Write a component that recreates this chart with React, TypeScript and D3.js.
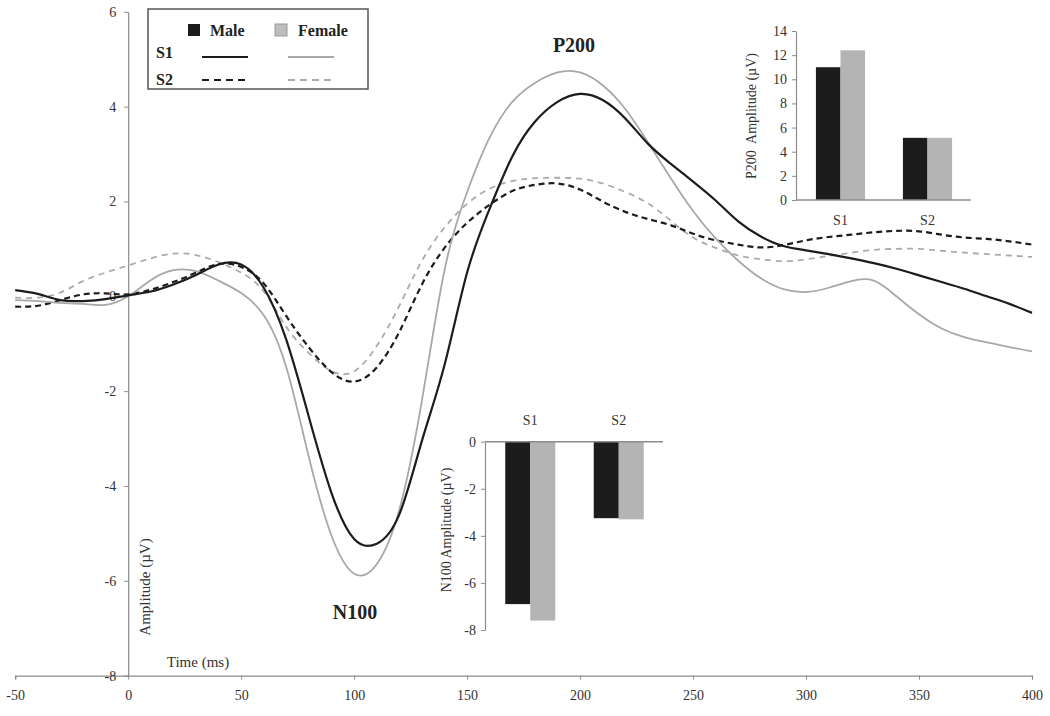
import React, { useEffect, useRef } from 'react';
import * as d3 from 'd3';

// ERP waveforms, sampled every 10 ms
const times = [
  -50, -40, -30, -20, -10, 0, 10, 20, 30, 40, 50, 60, 70, 80, 90, 100, 110, 120, 130, 140,
  150, 160, 170, 180, 190, 200, 210, 220, 230, 240, 250, 260, 270, 280, 290, 300, 310, 320,
  330, 340, 350, 360, 370, 380, 390, 400,
];
const maleS1 = [
  0.13, 0.05, -0.08, -0.1, -0.06, 0.02, 0.1, 0.25, 0.45, 0.67, 0.67, 0.18, -0.92, -2.55, -4.15, -5.12,
  -5.22, -4.6, -3.05, -1.45, 0.5, 1.85, 2.95, 3.68, 4.1, 4.27, 4.14, 3.75, 3.22, 2.8, 2.42, 2.02,
  1.58, 1.26, 1.06, 0.97, 0.89, 0.8, 0.7, 0.58, 0.44, 0.3, 0.16, 0.0, -0.16, -0.35,
];
const femaleS1 = [
  -0.08, -0.1, -0.14, -0.16, -0.18, 0.0, 0.34, 0.55, 0.53, 0.33, 0.07, -0.4, -1.5, -3.4, -5.05, -5.85,
  -5.65, -4.5, -2.2, 0.55, 2.2, 3.35, 4.1, 4.5, 4.72, 4.72, 4.45, 3.95, 3.25, 2.5, 1.8, 1.22,
  0.75, 0.38, 0.15, 0.09, 0.18, 0.32, 0.33, 0.0, -0.38, -0.68, -0.86, -0.97, -1.07, -1.16,
];
const maleS2 = [
  -0.22, -0.2, -0.08, 0.04, 0.06, 0.04, 0.14, 0.3, 0.5, 0.68, 0.62, 0.27, -0.42, -1.08, -1.6, -1.8,
  -1.5, -0.75, 0.25, 1.02, 1.55, 1.93, 2.22, 2.35, 2.38, 2.25, 2.0, 1.78, 1.63, 1.5, 1.32, 1.18,
  1.09, 1.03, 1.08, 1.18, 1.25, 1.3, 1.35, 1.38, 1.37, 1.3, 1.24, 1.21, 1.16, 1.09,
];
const femaleS2 = [
  -0.03, -0.03, 0.08, 0.32, 0.5, 0.65, 0.8, 0.9, 0.87, 0.72, 0.5, 0.1, -0.65, -1.2, -1.58, -1.58,
  -1.05, -0.2, 0.75, 1.45, 1.95, 2.27, 2.43, 2.49, 2.5, 2.48, 2.38, 2.2, 1.96, 1.6, 1.24, 1.02,
  0.86, 0.78, 0.74, 0.78, 0.85, 0.92, 0.98, 1.0, 1.0, 0.96, 0.92, 0.89, 0.86, 0.83,
];

const xTicks = [-50, 0, 50, 100, 150, 200, 250, 300, 350, 400];
const yTicks = [-8, -6, -4, -2, 0, 2, 4, 6];

// inset bar charts
const sessions = ['S1', 'S2'];
const genders = ['Male', 'Female'];
const p200Male = [11.0, 5.15];
const p200Female = [12.4, 5.15];
const p200Ticks = [0, 2, 4, 6, 8, 10, 12, 14];
const n100Male = [-6.9, -3.25];
const n100Female = [-7.6, -3.3];
const n100Ticks = [-8, -6, -4, -2, 0];

const FONT = '"Liberation Serif", "DejaVu Serif", serif';
const AXIS = '#8c8c8c';
const TXT = '#333333';
const DARK = '#1c1c1c';
const LIGHT = '#b4b4b4';
const plain = (d) => String(d);

function App() {
  const ref = useRef(null);

  useEffect(() => {
    const el = ref.current;
    if (!el) return;
    el.innerHTML = '';
    const width = 1050;
    const height = 716;
    const svg = d3.select(el).append('svg').attr('width', width).attr('height', height)
      .style('position', 'absolute').style('left', 0).style('top', 0)
      .style('font-family', FONT);

    const x = d3.scaleLinear().domain([-50, 400]).range([15.2, 1032]);
    const y = d3.scaleLinear().domain([-8, 6]).range([675.6, 11.8]);

    // axes
    const xAxis = svg.append('g').attr('transform', `translate(0,${y(-8)})`)
      .call(d3.axisBottom(x).tickValues(xTicks).tickFormat(plain).tickSize(4).tickSizeOuter(4).tickPadding(10));
    const yAxis = svg.append('g').attr('transform', `translate(${x(0)},0)`)
      .call(d3.axisLeft(y).tickValues(yTicks).tickFormat(plain).tickSize(4).tickSizeOuter(0).tickPadding(8));
    [xAxis, yAxis].forEach((g) => {
      g.select('.domain').attr('stroke', AXIS).attr('stroke-width', 1.2);
      g.selectAll('line').attr('stroke', AXIS);
      g.selectAll('text').attr('fill', TXT).attr('font-size', 14).attr('font-family', FONT);
    });

    // waveforms
    const series = [
      { vals: femaleS2, color: '#ababab', width: 1.8, dash: '6,5' },
      { vals: maleS2, color: DARK, width: 2.2, dash: '6,4' },
      { vals: femaleS1, color: '#a8a8a8', width: 1.8, dash: null },
      { vals: maleS1, color: DARK, width: 2.2, dash: null },
    ];
    const line = d3.line()
      .x((_, i) => x(times[i]))
      .y((d) => y(d))
      .curve(d3.curveNatural);
    series.forEach((s) => {
      svg.append('path')
        .datum(s.vals)
        .attr('fill', 'none')
        .attr('stroke', s.color)
        .attr('stroke-width', s.width)
        .attr('stroke-dasharray', s.dash)
        .attr('d', line);
    });

    // axis titles
    svg.append('text')
      .attr('transform', `translate(150,587) rotate(-90)`)
      .attr('text-anchor', 'middle').attr('fill', TXT).attr('font-size', 15)
      .text('Amplitude (µV)');
    svg.append('text')
      .attr('x', 198).attr('y', 667).attr('text-anchor', 'middle')
      .attr('fill', TXT).attr('font-size', 15)
      .text('Time (ms)');

    // component labels
    svg.append('text').attr('x', 574).attr('y', 52).attr('text-anchor', 'middle')
      .attr('font-weight', 'bold').attr('font-size', 20).attr('fill', '#222').text('P200');
    svg.append('text').attr('x', 355).attr('y', 619).attr('text-anchor', 'middle')
      .attr('font-weight', 'bold').attr('font-size', 20).attr('fill', '#222').text('N100');

    // legend
    const lg = svg.append('g');
    lg.append('rect').attr('x', 148).attr('y', 9).attr('width', 220).attr('height', 80)
      .attr('fill', 'white').attr('stroke', '#555').attr('stroke-width', 1.5);
    lg.append('rect').attr('x', 188).attr('y', 24).attr('width', 12).attr('height', 12).attr('fill', DARK);
    lg.append('rect').attr('x', 275).attr('y', 24).attr('width', 12).attr('height', 12)
      .attr('fill', '#bdbdbd').attr('stroke', '#999');
    lg.append('text').attr('x', 210).attr('y', 36).attr('font-weight', 'bold').attr('font-size', 16)
      .attr('fill', '#222').text('Male');
    lg.append('text').attr('x', 298).attr('y', 36).attr('font-weight', 'bold').attr('font-size', 16)
      .attr('fill', '#222').text('Female');
    lg.append('text').attr('x', 156).attr('y', 58).attr('font-weight', 'bold').attr('font-size', 16)
      .attr('fill', '#222').text('S1');
    lg.append('text').attr('x', 156).attr('y', 85).attr('font-weight', 'bold').attr('font-size', 16)
      .attr('fill', '#222').text('S2');
    [
      { x1: 202, yy: 57, color: DARK, w: 2.2, dash: null },
      { x1: 288, yy: 57, color: '#a8a8a8', w: 1.8, dash: null },
      { x1: 202, yy: 80, color: DARK, w: 2.2, dash: '7,5' },
      { x1: 288, yy: 80, color: '#ababab', w: 1.8, dash: '7,5' },
    ].forEach((l) => {
      lg.append('line').attr('x1', l.x1).attr('x2', l.x1 + 46).attr('y1', l.yy).attr('y2', l.yy)
        .attr('stroke', l.color).attr('stroke-width', l.w).attr('stroke-dasharray', l.dash);
    });

    // inset bars
    const drawInset = (cfg) => {
      const g = svg.append('g');
      const yb = d3.scaleLinear().domain(cfg.domain).range(cfg.yRange);
      const x0 = d3.scaleBand().domain(sessions).range(cfg.xRange).paddingInner(0).paddingOuter(0);
      const groupW = x0.bandwidth() * 0.565;
      const x1 = d3.scaleBand().domain(genders).range([0, groupW]);
      const rows = sessions.map((s, i) => ({ s, vals: [cfg.male[i], cfg.female[i]] }));
      rows.forEach((r) => {
        const gx = x0(r.s) + (x0.bandwidth() - groupW) / 2;
        g.selectAll(null).data(r.vals).enter().append('rect')
          .attr('x', (_, j) => gx + x1(genders[j]))
          .attr('y', (d) => Math.min(yb(d), yb(0)))
          .attr('width', x1.bandwidth())
          .attr('height', (d) => Math.abs(yb(d) - yb(0)))
          .attr('fill', (_, j) => (j === 0 ? DARK : LIGHT));
      });
      const ax = g.append('g').attr('transform', `translate(${cfg.xRange[0] - 1},0)`)
        .call(d3.axisLeft(yb).tickValues(cfg.ticks).tickFormat(plain).tickSize(4).tickSizeOuter(0).tickPadding(5));
      ax.select('.domain').attr('stroke', AXIS).attr('stroke-width', 1.2);
      ax.selectAll('line').attr('stroke', AXIS);
      ax.selectAll('text').attr('fill', TXT).attr('font-size', 14).attr('font-family', FONT);
      g.append('line').attr('x1', cfg.xRange[0] - 1).attr('x2', cfg.xRange[1])
        .attr('y1', yb(0)).attr('y2', yb(0)).attr('stroke', AXIS).attr('stroke-width', 1.5);
      g.selectAll(null).data(sessions).enter().append('text')
        .attr('x', (d) => x0(d) + x0.bandwidth() / 2)
        .attr('y', cfg.labelY).attr('text-anchor', 'middle')
        .attr('fill', TXT).attr('font-size', 14).text((d) => d);
      g.append('text')
        .attr('transform', `translate(${cfg.titleX},${cfg.titleY}) rotate(-90)`)
        .attr('text-anchor', 'middle').attr('fill', TXT).attr('font-size', 14)
        .attr('xml:space', 'preserve')
        .text(cfg.title);
    };

    drawInset({
      domain: [0, 14], yRange: [200, 31], xRange: [797, 971], ticks: p200Ticks,
      male: p200Male, female: p200Female, labelY: 225, titleX: 756, titleY: 116,
      title: 'P200  Amplitude (µV)',
    });
    drawInset({
      domain: [-8, 0], yRange: [630, 441.7], xRange: [486, 663], ticks: n100Ticks,
      male: n100Male, female: n100Female, labelY: 425, titleX: 451, titleY: 530,
      title: 'N100 Amplitude (µV)',
    });
  }, []);

  return <div ref={ref} style={{ width: 1050, height: 716, background: 'white' }} />;
}

export default App;
